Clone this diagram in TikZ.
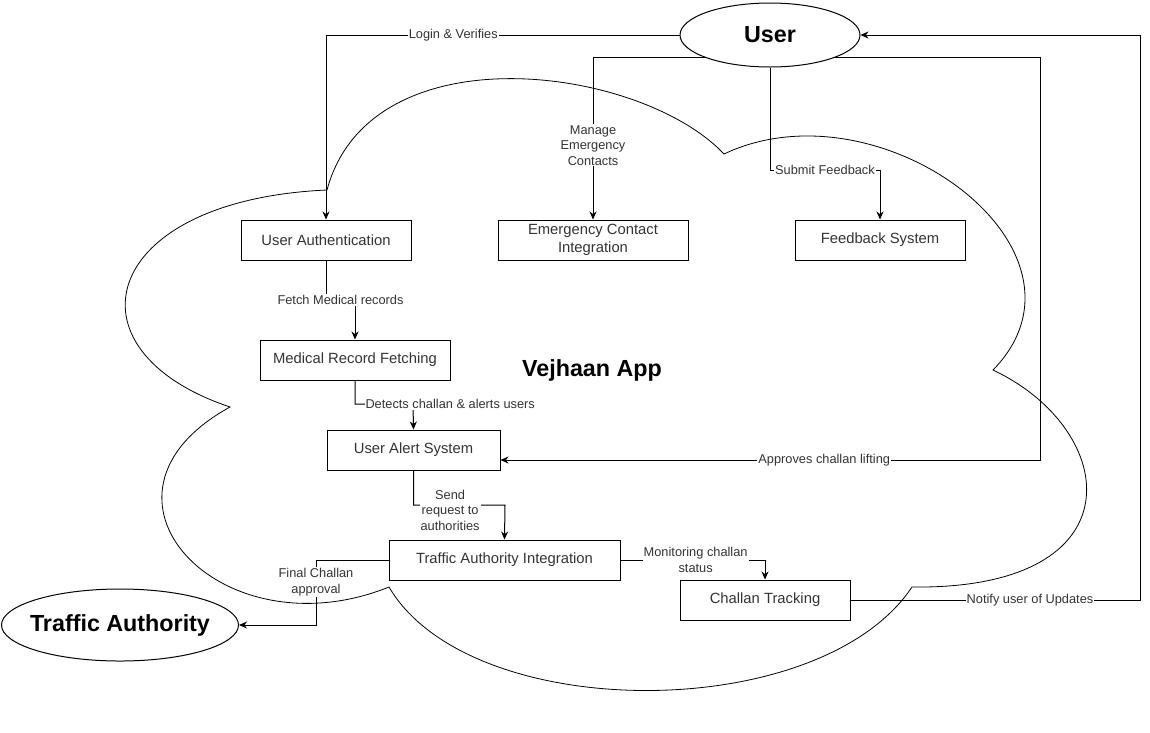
\documentclass[tikz,border=0pt]{standalone}
\usepackage{fontspec}
\setmainfont{Liberation Sans}
\usetikzlibrary{shapes.geometric,arrows.meta}
\definecolor{txtgray}{HTML}{333333}
\begin{document}
\begin{tikzpicture}[x=1pt, y=-1pt, line width=1pt]
                    \tikzstyle{box} = [draw, rectangle, minimum width=170pt, minimum height=40pt, inner sep=2pt, align=center, text=txtgray, font=\fontsize{14.8}{18}\selectfont]
                    \tikzstyle{ent} = [draw, ellipse, inner xsep=-30pt, inner ysep=0pt, font=\bfseries\fontsize{23.3}{26}\selectfont]
                    \tikzstyle{lbl} = [fill=white, inner sep=1pt, align=center, text=txtgray, font=\fontsize{12.8}{15.5}\selectfont]
                    \tikzstyle{arr} = [-{Stealth[length=8pt, width=7pt]}]
                    \useasboundingbox (0,0) rectangle (1150,732);
                    \node[ent, minimum width=180pt, minimum height=64pt] (user) at (770,35) {User};
                    \node[ent, minimum width=237pt, minimum height=72pt] (traffic) at (120,625) {Traffic Authority};
                    \node[box] (auth) at (326,240) {User Authentication};
                    \node[box, minimum width=190pt] (emerg) at (593,240) {Emergency Contact\\Integration};
                    \node[box] (feedback) at (880,240) {Feedback System};
                    \node[box, minimum width=190pt] (medical) at (355,360) {Medical Record Fetching};
                    \node[box, minimum width=173pt] (alert) at (413.5,450) {User Alert System};
                    \node[box, minimum width=231pt] (tai) at (504.5,560) {Traffic Authority Integration};
                    \node[box] (tracking) at (765,600) {Challan Tracking};
                    \node[font=\bfseries\fontsize{23.3}{26}\selectfont] (app) at (592,370) {Vejhaan App};
                    \coordinate (fbturn) at (880,170);
                    \coordinate (apturn) at (1040,460);
                    \coordinate (fmturn) at (355,300);
                    \coordinate (dcturn) at (413,404);
                    \coordinate (srturn) at (505,505);
                    \coordinate (fcturn) at (316,560);
                    \coordinate (nuturn) at (1140,600);
                    \draw[arr] (user.west) -| node[lbl, pos=0.32] {Login \& Verifies} (auth.north);
                    \draw[arr] (user.south west) -| node[lbl, pos=0.77] {Manage\\Emergency\\Contacts} (emerg.north);
                    \draw[arr] (user.south) |- node[lbl, pos=0.75] {Submit Feedback} (fbturn) -- (feedback.north);
                    \draw[arr] (user.south east) -| (apturn) -- node[lbl, pos=0.4] {Approves challan lifting} (alert.east |- apturn);
                    \draw[arr] (auth.south) |- node[lbl, pos=0.75] {Fetch Medical records} (fmturn) -- (medical.north);
                    \draw[arr] (medical.south) |- node[lbl, pos=0.5, anchor=west, xshift=9pt] {Detects challan \& alerts users} (dcturn) -- (alert.north);
                    \draw[arr] (alert.south) |- node[lbl, pos=0.7, yshift=-5pt] {Send\\request to\\authorities} (srturn) -- (tai.north);
                    \draw[arr] (tai.east) -| node[lbl, pos=0.26] {Monitoring challan\\status} (tracking.north);
                    \draw[arr] (tai.west) -- (fcturn) |- node[lbl, pos=0.17] {Final Challan\\approval} (traffic.east);
                    \draw[arr] (tracking.east) -- node[lbl, pos=0.62] {Notify user of Updates} (nuturn) |- (user.east);
                    \draw[line width=0.8pt] (327,190) .. controls (370,30) and (640,65) .. (724,154)
                        .. controls (880,80) and (1110,250) .. (993,370)
                        .. controls (1120,430) and (1140,590) .. (912,587)
                        .. controls (820,725) and (470,725) .. (389,587)
                        .. controls (220,655) and (70,495) .. (230,407)
                        .. controls (60,350) and (100,200) .. cycle;
\end{tikzpicture}
\end{document}
